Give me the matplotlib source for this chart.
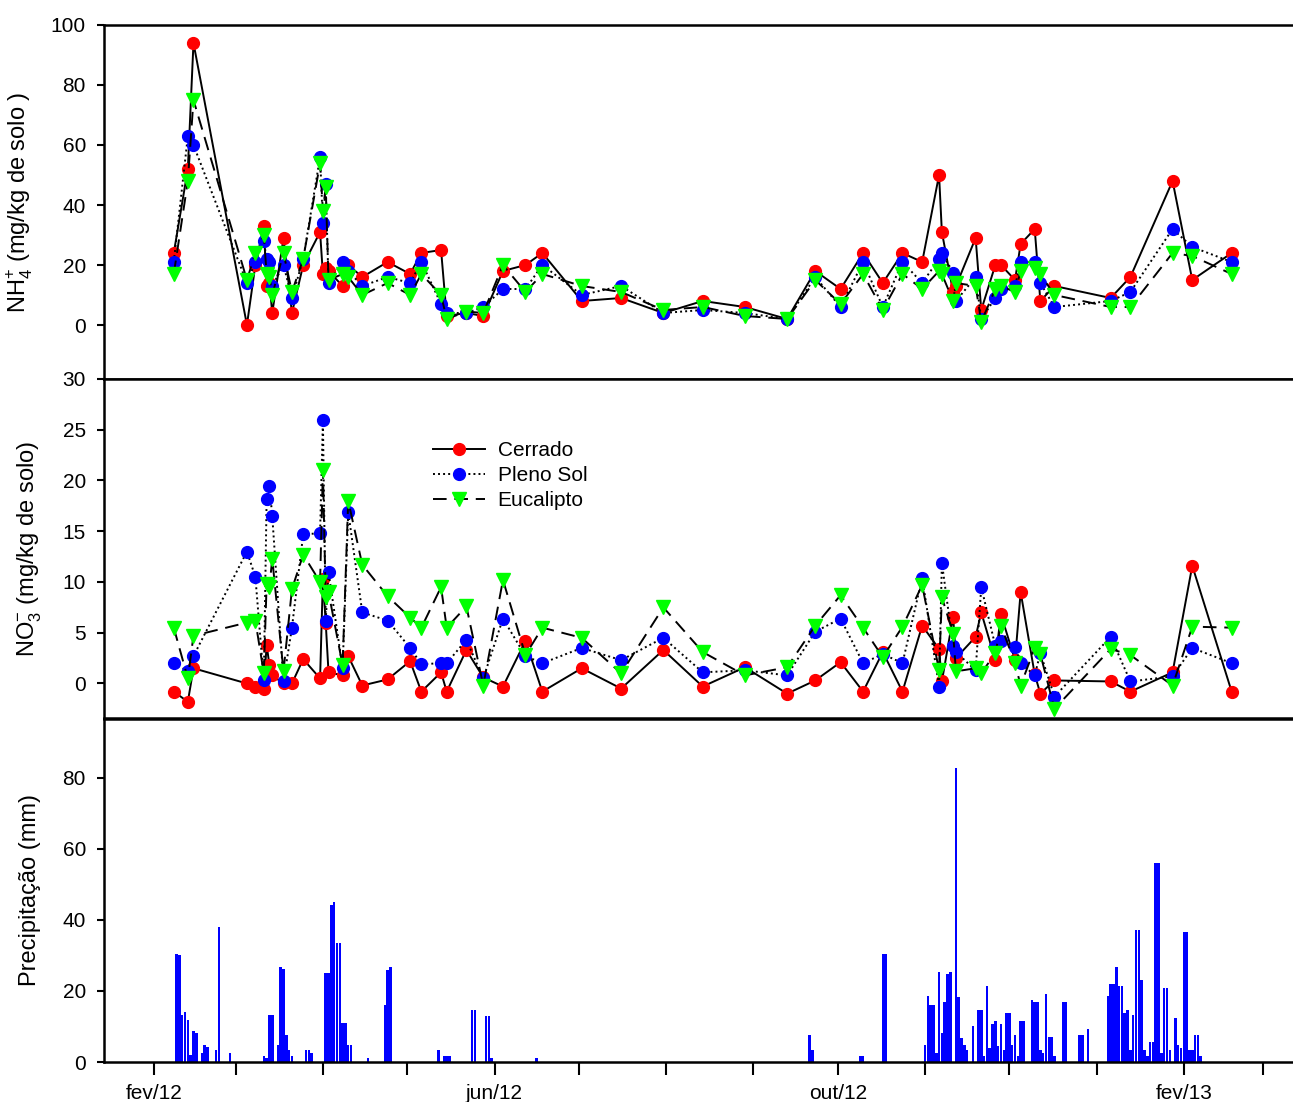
import numpy as np
import pandas as pd
import matplotlib
matplotlib.use('Agg')
import matplotlib.pyplot as plt
import matplotlib.dates as mdates
from matplotlib.ticker import FuncFormatter

# Fontes: numeros estreitos como no SigmaPlot
plt.rcParams['font.family'] = ['Liberation Sans Narrow', 'Liberation Sans']
plt.rcParams['mathtext.fontset'] = 'custom'
plt.rcParams['mathtext.rm'] = 'Liberation Sans'

#-----------------------------------------------
# Dados
#-----------------------------------------------
datas = ['2012-02-08', '2012-02-13', '2012-02-15', '2012-03-05', '2012-03-08',
         '2012-03-11', '2012-03-12', '2012-03-13', '2012-03-14', '2012-03-18',
         '2012-03-21', '2012-03-25', '2012-03-31', '2012-04-01', '2012-04-02',
         '2012-04-03', '2012-04-08', '2012-04-10', '2012-04-15', '2012-04-24',
         '2012-05-02', '2012-05-06', '2012-05-13', '2012-05-15', '2012-05-22',
         '2012-05-28', '2012-06-04', '2012-06-12', '2012-06-18', '2012-07-02',
         '2012-07-16', '2012-07-31', '2012-08-14', '2012-08-29', '2012-09-13',
         '2012-09-23', '2012-10-02', '2012-10-10', '2012-10-17', '2012-10-24',
         '2012-10-31', '2012-11-06', '2012-11-07', '2012-11-11', '2012-11-12',
         '2012-11-19', '2012-11-21', '2012-11-26', '2012-11-28', '2012-12-03',
         '2012-12-05', '2012-12-10', '2012-12-12', '2012-12-17', '2013-01-06',
         '2013-01-13', '2013-01-28', '2013-02-04', '2013-02-18']

# NH4+ (mg/kg de solo)
nh4_cerrado = [24, 52, 94, 0, 20, 33, 13, 14, 4, 29, 4, 20, 31, 17, 19, 18, 13, 20, 16, 21,
               17, 24, 25, 3, 4, 3, 18, 20, 24, 8, 9, 4, 8, 6, 2, 18, 12, 24, 14, 24,
               21, 50, 31, 11, 13, 29, 5, 20, 20, 15, 27, 32, 8, 13, 9, 16, 48, 15, 24]
nh4_pleno = [21, 63, 60, 14, 21, 28, 22, 21, 13, 20, 9, 22, 56, 34, 47, 14, 21, 18, 13, 16,
             14, 21, 7, 4, 4, 6, 12, 12, 20, 10, 13, 4, 5, 4, 2, 16, 6, 21, 6, 21,
             14, 22, 24, 17.5, 8, 16, 2, 9, 12, 13, 21, 21, 14, 6, 8, 11, 32, 26, 21]
nh4_euca = [17, 48, 75, 15, 24, 30, 17, 16, 10, 24, 11, 22, 54, 38, 46, 15, 17, 16, 10, 14,
            10, 17, 10, 2, 4.5, 4, 20, 11, 17, 13, 11, 5, 6, 3, 2, 15, 7, 17, 5, 17,
            12, 18, 17, 8, 14, 13, 1, 12, 13, 11, 18, 19, 17, 10, 6, 6, 24, 23, 17]

# NO3- (mg/kg de solo)
no3_cerrado = [-0.8, -1.8, 1.5, 0, -0.3, -0.5, 3.8, 1.8, 0.8, 0, 0, 2.4, 0.5, 10.3, 6, 1.1,
               0.8, 2.7, -0.2, 0.4, 2.2, -0.8, 1.1, -0.8, 3.3, 0.6, -0.3, 4.2, -0.8, 1.5,
               -0.5, 3.3, -0.3, 1.6, -1.0, 0.3, 2.1, -0.8, 3.1, -0.8, 5.7, 3.4, 0.2, 6.6,
               2.5, 4.6, 7.0, 2.3, 6.8, 2.3, 9.0, 0.9, -1.0, 0.3, 0.2, -0.8, 1.1, 11.6, -0.8]
no3_pleno = [2, 1.2, 2.7, 13, 10.5, 0.3, 18.2, 19.5, 16.5, 0.2, 5.5, 14.7, 14.8, 26, 6.2, 11,
             1.5, 16.9, 7, 6.2, 3.5, 1.9, 2.0, 2.0, 4.3, 0.5, 6.4, 2.7, 2.0, 3.5,
             2.3, 4.5, 1.1, 1.3, 0.8, 5.1, 6.4, 2.0, 2.9, 2.0, 10.4, -0.3, 11.9, 3.7,
             3.1, 1.3, 9.5, 3.7, 4.2, 3.6, 2.0, 0.8, 3.0, -1.3, 4.6, 0.2, 0.7, 3.5, 2.0]
no3_euca = [5.5, 0.5, 4.7, 6, 6.2, 1.0, 9.8, 9.5, 12.3, 1.2, 9.3, 12.7, 10, 21, 8.5, 9,
            1.8, 18, 11.7, 8.6, 6.5, 5.5, 9.5, 5.5, 7.6, -0.2, 10.2, 2.8, 5.5, 4.5,
            1.0, 7.5, 3.1, 0.8, 1.6, 5.7, 8.7, 5.5, 2.6, 5.6, 9.7, 1.3, 8.5, 4.9,
            1.2, 1.5, 1.0, 3.0, 5.7, 2.0, -0.2, 3.5, 2.9, -2.5, 3.4, 2.8, -0.2, 5.6, 5.5]

# Precipitacao diaria (dias contados a partir de 01/02/2012)
inicio = pd.Timestamp('2012-02-01')
chuva_dia = [8, 9, 10, 11, 12, 13, 14, 15, 17, 18, 19, 22, 23, 27, 39, 40, 41, 42, 44, 45,
             46, 47, 48, 49, 54, 55, 56, 61, 62, 63, 64, 65, 66, 67, 68, 69, 70, 76, 82, 83,
             84, 101, 103, 104, 105, 113, 114, 118, 119, 120, 136,
             233, 234, 251, 252, 259, 260, 274, 275, 276, 277, 278, 279, 280, 281, 282, 283,
             285, 286, 287, 288, 289, 291, 293, 294, 295, 296, 297, 298, 299, 300, 301, 302,
             303, 304, 305, 306, 307, 308, 309, 312, 313, 314, 315, 316, 317, 318, 319, 320,
             323, 324, 329, 330, 332, 339, 340, 341, 342, 343, 344, 345, 346, 347, 348, 349,
             350, 351, 352, 353, 354, 355, 356, 357, 358, 359, 360, 361, 363, 364, 365, 366,
             367, 368, 369, 370, 371, 372]
chuva_mm = [30.5, 30, 13.3, 14, 11.7, 1.9, 8.6, 8.2, 2.5, 4.9, 4.2, 3.5, 38.1, 2.5, 1.8, 1.1,
            13.3, 13.3, 4.9, 26.7, 26.1, 7.7, 3.5, 1.8, 3.5, 3.5, 2.5, 25, 25, 44.2, 44.9,
            33.6, 33.6, 11, 11, 4.9, 4.9, 1.1, 16.1, 26, 26.7, 3.3, 1.8, 1.8, 1.8, 14.5,
            14.5, 13, 13, 1.1, 1.1,
            7.7, 3.3, 1.6, 1.6, 30.5, 30.5, 4.9, 18.5, 16.1, 16.1, 2.5, 25.2, 8.2, 16.8, 24.8,
            25.2, 82.7, 18.3, 6.7, 4.9, 3.3, 10, 14.5, 14.5, 1.6, 21.5, 3.9, 10.8, 11.4, 4.4,
            10.8, 3.3, 13.8, 13.8, 4.9, 7.7, 1.6, 11.4, 11.4, 17.5, 16.8, 16.8, 3.5, 2.5,
            19.2, 7, 7, 1.6, 16.8, 16.8, 7.7, 7.7, 9.3, 18.5, 22, 22, 26.7, 21.5, 21.5, 13.8,
            14.5, 3.3, 13.3, 37.2, 37.2, 23, 3.5, 1.6, 5.5, 5.5, 56, 56, 2.5, 20.8, 20.8, 3.5,
            12.4, 4.9, 3.9, 36.5, 36.5, 3.5, 3.5, 7.7, 7.7, 1.6]

series = ['Cerrado', 'Pleno Sol', 'Eucalipto']
meses = ['jan', 'fev', 'mar', 'abr', 'mai', 'jun', 'jul', 'ago', 'set', 'out', 'nov', 'dez']

datas = pd.to_datetime(datas)
chuva_datas = inicio + pd.to_timedelta(chuva_dia, unit='D')

#-----------------------------------------------
# Figura
#-----------------------------------------------
fig = plt.figure(figsize=(12.93, 11.02), dpi=100)
W, H = 1293, 1102
ax1 = fig.add_axes([104 / W, 1 - 379 / H, 1 - 104 / W, 354 / H])
ax2 = fig.add_axes([104 / W, 1 - 718 / H, 1 - 104 / W, 339 / H])
ax3 = fig.add_axes([104 / W, 1 - 1062 / H, 1 - 104 / W, 343 / H])

estilos = [dict(color='black', linestyle='-', marker='o', mfc='#FF0000', mec='#FF0000', ms=8.5),
           dict(color='black', linestyle=(0, (1, 1.6)), marker='o', mfc='#0000FF', mec='#0000FF', ms=8.5),
           dict(color='black', linestyle=(0, (7, 4)), marker='v', mfc='#00FF00', mec='#00FF00', ms=9.5)]

for nome, y, st in zip(series, [nh4_cerrado, nh4_pleno, nh4_euca], estilos):
    ax1.plot(datas, y, lw=1.4, label=nome, **st)
for nome, y, st in zip(series, [no3_cerrado, no3_pleno, no3_euca], estilos):
    ax2.plot(datas, y, lw=1.4, label=nome, **st)

ax3.bar(chuva_datas, chuva_mm, width=0.9, color='#0000FF', linewidth=0)

x0 = mdates.date2num(inicio)
for ax in (ax1, ax2, ax3):
    ax.set_xlim(x0 - 17.8, x0 + 404.8)
    ax.spines['right'].set_visible(False)
    for s in ax.spines.values():
        s.set_linewidth(1.8)
    ax.tick_params(axis='y', direction='out', length=5, width=1.5, pad=8, labelsize=15)

ax1.set_ylim(-18, 100)
ax1.set_yticks([0, 20, 40, 60, 80, 100])
ax2.set_ylim(-3.4, 30)
ax2.set_yticks([0, 5, 10, 15, 20, 25, 30])
ax3.set_ylim(0, 96.5)
ax3.set_yticks([0, 20, 40, 60, 80])

for ax in (ax1, ax2):
    ax.tick_params(axis='x', bottom=False, labelbottom=False)

def rotulo_mes(x, pos):
    d = mdates.num2date(x)
    if d.month in (2, 6, 10):
        return '%s/%s' % (meses[d.month - 1], str(d.year)[2:])
    return ''

ax3.xaxis.set_major_locator(mdates.MonthLocator())
ax3.xaxis.set_major_formatter(FuncFormatter(rotulo_mes))
ax3.tick_params(axis='x', direction='out', length=9, width=1.5, pad=7, labelsize=15)

fonte_eixo = dict(family='Liberation Sans', fontsize=17)
ax1.set_ylabel(r'NH$_\mathregular{4}^\mathregular{+}$ (mg/kg de solo )', **fonte_eixo)
ax2.set_ylabel(r'NO$_\mathregular{3}^\mathregular{-}$ (mg/kg de solo)', **fonte_eixo)
ax3.set_ylabel('Precipitação (mm)', **fonte_eixo)
ax1.yaxis.set_label_coords(-0.058, 0.5)
ax2.yaxis.set_label_coords(-0.051, 0.5)
ax3.yaxis.set_label_coords(-0.053, 0.5)

ax2.legend(loc='upper left', bbox_to_anchor=((433 - 104) / 1189, (718 - 441) / 339),
           frameon=False, fontsize=15, numpoints=1, handlelength=2.5,
           handletextpad=0.6, labelspacing=0.3, borderpad=0, borderaxespad=0)

fig.savefig('out.png', dpi=100)
